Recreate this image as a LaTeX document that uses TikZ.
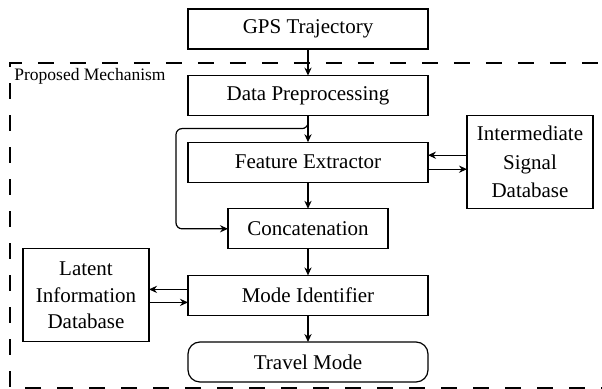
\documentclass[tikz,border=0pt]{standalone}
\usepackage{fontspec}
\setmainfont{Liberation Serif}
\usepackage{tikz}
\usetikzlibrary{arrows.meta, positioning, calc}

\begin{document}
\begin{tikzpicture}[
        x=1pt, y=1pt,
        node distance=13.3pt and 19.5pt,
        font=\fontsize{10.5}{12.6}\selectfont,
        block/.style={rectangle, draw=black, line width=0.6pt, outer sep=0pt, minimum width=120pt, minimum height=20pt, align=center, inner sep=1pt},
        smallblock/.style={block, minimum width=80pt},
        database/.style={rectangle, draw=black, line width=0.6pt, outer sep=0pt, minimum width=63pt, minimum height=46.5pt, align=center, inner sep=1pt},
        terminal/.style={block, rounded corners=6pt},
        frame/.style={draw=black, line width=0.8pt, dash pattern=on 8pt off 8pt},
        arrow/.style={->, >={Stealth[length=4pt, width=3.6pt]}, line width=0.6pt}
    ]
        \useasboundingbox (0,0) rectangle (301,-194.5);
        % dashed region
        \draw[frame] (306,-31.5) rectangle (5,-194);
        \node[anchor=north west, inner sep=1.5pt, font=\fontsize{8.75}{10}\selectfont] (label) at (5.5,-32.5) {Proposed Mechanism};
        % main column
        \node[block] (gps) at (154,-14.5) {GPS Trajectory};
        \node[block, below=of gps] (prep) {Data Preprocessing};
        \node[block, below=of prep] (feat) {Feature Extractor};
        \node[smallblock, below=of feat] (concat) {Concatenation};
        \node[block, below=of concat] (ident) {Mode Identifier};
        \node[terminal, below=of ident] (mode) {Travel Mode};
        % side databases
        \node[database, right=of feat, font=\fontsize{10.5}{14.2}\selectfont] (signal) {Intermediate\\Signal\\Database};
        \node[database, left=of ident, font=\fontsize{10.5}{13.3}\selectfont] (latent) {Latent\\Information\\Database};
        % connectors
        \draw[arrow] (gps) -- (prep);
        \draw[arrow] (prep) -- (feat);
        \draw[arrow] (feat) -- (concat);
        \draw[arrow] (concat) -- (ident);
        \draw[arrow] (ident) -- (mode);
        \draw[arrow, rounded corners=3pt] (prep.south) -- ++(0,-6.5) -| ([xshift=-26pt]concat.west) -- (concat.west);
        \draw[arrow] ([yshift=3.5pt]signal.west) -- ([yshift=3.5pt]feat.east);
        \draw[arrow] ([yshift=-3.5pt]feat.east) -- ([yshift=-3.5pt]signal.west);
        \draw[arrow] ([yshift=3pt]ident.west) -- ([yshift=3pt]latent.east);
        \draw[arrow] ([yshift=-3.5pt]latent.east) -- ([yshift=-3.5pt]ident.west);
    \end{tikzpicture}
\end{document}
